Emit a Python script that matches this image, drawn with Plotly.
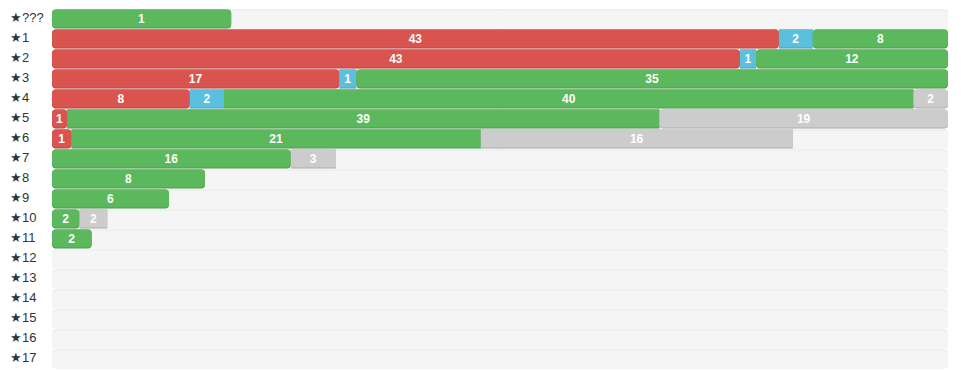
import plotly.graph_objects as go

# ---- data ----
categories = ["★???", "★1", "★2", "★3", "★4", "★5", "★6", "★7", "★8", "★9",
              "★10", "★11", "★12", "★13", "★14", "★15", "★16", "★17"]
red_vals   = [0, 43, 43, 17, 8, 1, 1, 0, 0, 0, 0, 0, 0, 0, 0, 0, 0, 0]
blue_vals  = [0, 2, 1, 1, 2, 0, 0, 0, 0, 0, 0, 0, 0, 0, 0, 0, 0, 0]
green_vals = [1, 8, 12, 35, 40, 39, 21, 16, 8, 6, 2, 2, 0, 0, 0, 0, 0, 0]
gray_vals  = [0, 0, 0, 0, 2, 19, 16, 3, 0, 0, 2, 0, 0, 0, 0, 0, 0, 0]
# share of the track filled by each row (percent)
fill_pct   = [20, 100, 100, 100, 100, 100, 82.67, 31.66, 17.08, 13.06,
              6.17, 4.43, 0, 0, 0, 0, 0, 0]

series = [
    ("red", red_vals, "#d9534f", "#b84743"),
    ("blue", blue_vals, "#5bc0de", "#4da3bd"),
    ("green", green_vals, "#5cb85c", "#4e9c4e"),
    ("gray", gray_vals, "#cccccc", "#adadad"),
]

FULL = 100.0
R = 4
H_ALL = 0.95
H_IN = 0.90
TOP = -H_ALL / 2
FONT = "Liberation Sans, Arial, sans-serif"

fig = go.Figure()

# ---- background tracks (two overlapping halves so both ends get rounded) ----
n = len(categories)
halves = ((-FULL / 2 - 0.5, FULL / 2 + 0.5), (FULL / 2 + 0.5, FULL / 2 - 0.5))
for color, wd, off in (("#e6e6e6", H_ALL, TOP), ("#f5f5f5", H_IN, TOP + (H_ALL - H_IN))):
    for xs, bs in halves:
        fig.add_trace(go.Bar(
            y=categories, x=[xs] * n, base=[bs] * n,
            orientation="h", width=wd, offset=off,
            marker=dict(color=color, line=dict(width=0), cornerradius=R),
            hoverinfo="skip", showlegend=False))

# ---- segments ----
totals = [sum(s[1][i] for s in series) for i in range(n)]
groups = {}
txt = dict(y=[], x=[], base=[], text=[])
for i, cat in enumerate(categories):
    if totals[i] == 0:
        continue
    scale = fill_pct[i] / totals[i]
    start = 0.0
    first = True
    for name, vals, col, dark in series:
        v = vals[i]
        if v == 0:
            continue
        w = v * scale
        end = start + w
        if first:
            kind = "left"
        elif end >= FULL - 1e-6:
            kind = "right"
        else:
            kind = "mid"
        g = groups.setdefault((name, kind), dict(y=[], x=[], base=[], col=col, dark=dark))
        g["y"].append(cat)
        if kind == "left":
            g["x"].append(-w)
            g["base"].append(end)
        else:
            g["x"].append(w)
            g["base"].append(start)
        txt["y"].append(cat)
        txt["x"].append(w)
        txt["base"].append(start)
        txt["text"].append(str(v))
        start = end
        first = False

for (name, kind), g in groups.items():
    cr = 0 if kind == "mid" else R
    fig.add_trace(go.Bar(
        y=g["y"], x=g["x"], base=g["base"], orientation="h",
        width=H_ALL, offset=TOP,
        marker=dict(color=g["dark"], line=dict(width=0), cornerradius=cr),
        hoverinfo="skip", showlegend=False))
    fig.add_trace(go.Bar(
        y=g["y"], x=g["x"], base=g["base"], orientation="h",
        width=H_IN, offset=TOP,
        marker=dict(color=g["col"], line=dict(width=0), cornerradius=cr),
        hoverinfo="skip", showlegend=False))

# text layer (transparent, square bars so labels are never shrunk)
fig.add_trace(go.Bar(
    y=txt["y"], x=txt["x"], base=txt["base"], orientation="h",
    width=H_IN, offset=TOP,
    marker=dict(color="rgba(0,0,0,0)", line=dict(width=0)),
    text=txt["text"], textposition="inside", insidetextanchor="middle",
    textangle=0, constraintext="none",
    textfont=dict(color="white", size=12, family=FONT, weight="bold"),
    hoverinfo="skip", showlegend=False))

# ---- row labels ----
for cat in categories:
    fig.add_annotation(
        x=0, xref="paper", y=cat, yref="y", xanchor="left", yanchor="middle",
        xshift=-44, yshift=2, text=cat, showarrow=False,
        font=dict(size=13, color="#333333", family=FONT))

fig.update_layout(
    width=952, height=363,
    margin=dict(l=44, r=12, t=1, b=2),
    barmode="overlay",
    plot_bgcolor="white", paper_bgcolor="white",
    showlegend=False,
    xaxis=dict(range=[0, FULL], visible=False, fixedrange=True),
    yaxis=dict(type="category", categoryorder="array", categoryarray=categories,
               range=[n - 0.5, -0.5], visible=False, fixedrange=True),
)

fig.write_html("out.html")
